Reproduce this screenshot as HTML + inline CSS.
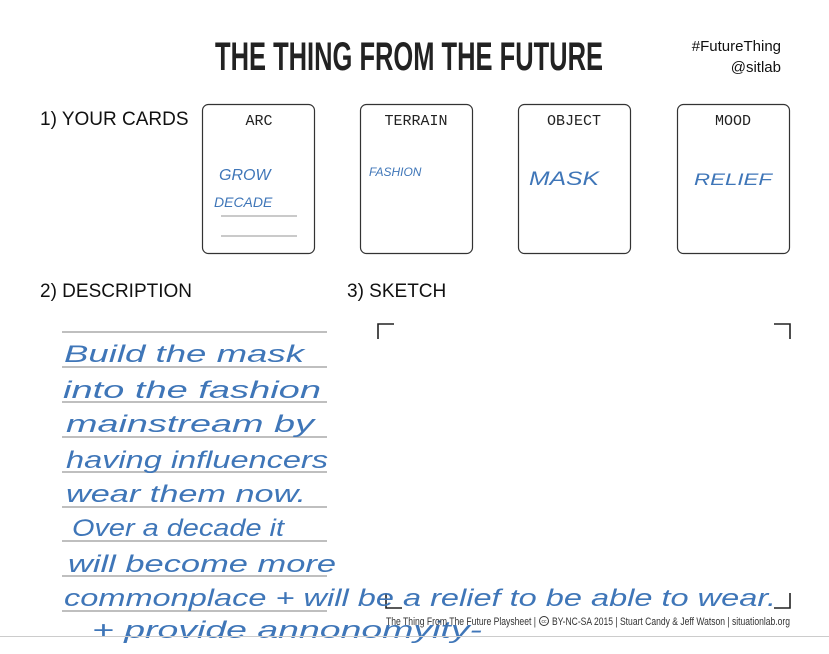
<!DOCTYPE html>
<html><head><meta charset="utf-8"><style>
html,body{margin:0;padding:0;background:#fff;}
svg{display:block;}
.h{font-family:"Liberation Sans Narrow","Liberation Sans",sans-serif;font-style:italic;fill:#3f76b8;}
</style></head><body>
<svg width="829" height="654" viewBox="0 0 829 654" xmlns="http://www.w3.org/2000/svg">
<rect width="829" height="654" fill="#fff"/>
<text x="409" y="70" text-anchor="middle" font-family="Liberation Sans Narrow, Liberation Sans, sans-serif" font-weight="bold" font-size="40" fill="#222" textLength="388" lengthAdjust="spacingAndGlyphs">THE THING FROM THE FUTURE</text>
<text x="781" y="51" text-anchor="end" font-family="Liberation Sans, sans-serif" font-size="15" fill="#111">#FutureThing</text>
<text x="781" y="72" text-anchor="end" font-family="Liberation Sans, sans-serif" font-size="15" fill="#111">@sitlab</text>
<g font-family="Liberation Sans, sans-serif" font-size="19" fill="#111">
<text x="40" y="125">1) YOUR CARDS</text>
<text x="40" y="297">2) DESCRIPTION</text>
<text x="347" y="297">3) SKETCH</text>
</g>
<g fill="none" stroke="#333" stroke-width="1.2">
<rect x="202.5" y="104.5" width="112" height="149" rx="6"/>
<rect x="360.5" y="104.5" width="112" height="149" rx="6"/>
<rect x="518.5" y="104.5" width="112" height="149" rx="6"/>
<rect x="677.5" y="104.5" width="112" height="149" rx="6"/>
</g>
<g font-family="Liberation Mono, monospace" font-size="15" fill="#222" text-anchor="middle">
<text x="259" y="125">ARC</text>
<text x="416" y="125">TERRAIN</text>
<text x="574" y="125">OBJECT</text>
<text x="733" y="125">MOOD</text>
</g>
<g stroke="#aaa" stroke-width="1.2">
<line x1="221" y1="216" x2="297" y2="216"/>
<line x1="221" y1="236" x2="297" y2="236"/>
</g>
<g class="h">
<text x="219" y="180" font-size="16">GROW</text>
<text x="214" y="207" font-size="14">DECADE</text>
<text x="369" y="176" font-size="12">FASHION</text>
<text x="529" y="185" font-size="19" textLength="70" lengthAdjust="spacingAndGlyphs">MASK</text>
<text x="694" y="185" font-size="17" textLength="78" lengthAdjust="spacingAndGlyphs">RELIEF</text>
</g>
<g stroke="#aaa" stroke-width="1.6">
<line x1="62" y1="332" x2="327" y2="332"/>
<line x1="62" y1="367" x2="327" y2="367"/>
<line x1="62" y1="402" x2="327" y2="402"/>
<line x1="62" y1="437" x2="327" y2="437"/>
<line x1="62" y1="472" x2="327" y2="472"/>
<line x1="62" y1="507" x2="327" y2="507"/>
<line x1="62" y1="541" x2="327" y2="541"/>
<line x1="62" y1="576" x2="327" y2="576"/>
<line x1="62" y1="611" x2="327" y2="611"/>
</g>
<g fill="none" stroke="#222" stroke-width="1.6">
<polyline points="378,339 378,324 394,324"/>
<polyline points="774,324 790,324 790,339"/>
<polyline points="386,593 386,608 402,608"/>
<polyline points="774,608 790,608 790,593"/>
</g>
<g class="h" font-size="24">
<text x="64" y="362" textLength="240" lengthAdjust="spacingAndGlyphs">Build the mask</text>
<text x="63" y="398" textLength="258" lengthAdjust="spacingAndGlyphs">into the fashion</text>
<text x="66" y="432" textLength="248" lengthAdjust="spacingAndGlyphs">mainstream by</text>
<text x="66" y="468" textLength="262" lengthAdjust="spacingAndGlyphs">having influencers</text>
<text x="66" y="502" textLength="240" lengthAdjust="spacingAndGlyphs">wear them now.</text>
<text x="72" y="536" textLength="212" lengthAdjust="spacingAndGlyphs">Over a decade it</text>
<text x="68" y="572" textLength="268" lengthAdjust="spacingAndGlyphs">will become more</text>
<text x="64" y="606" textLength="712" lengthAdjust="spacingAndGlyphs">commonplace + will be a relief to be able to wear.</text>
<text x="92" y="638" textLength="390" lengthAdjust="spacingAndGlyphs">+ provide annonomyity-</text>
</g>
<g font-family="Liberation Sans Narrow, Liberation Sans, sans-serif" font-size="11" fill="#333">
<text x="386" y="625" textLength="150" lengthAdjust="spacingAndGlyphs">The Thing From The Future Playsheet |</text>
<text x="552" y="625" textLength="238" lengthAdjust="spacingAndGlyphs">BY-NC-SA 2015 | Stuart Candy &amp; Jeff Watson | situationlab.org</text>
</g>
<circle cx="544" cy="621" r="4.5" fill="none" stroke="#333" stroke-width="1"/>
<text x="544" y="623" text-anchor="middle" font-family="Liberation Sans, sans-serif" font-size="5" fill="#333">cc</text>
<line x1="0" y1="636.5" x2="829" y2="636.5" stroke="#ccc" stroke-width="1"/>
</svg>
</body></html>
